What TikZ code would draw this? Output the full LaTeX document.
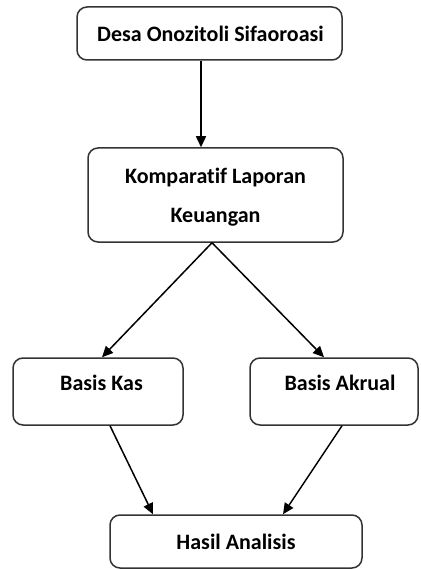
\documentclass[tikz,border=0pt]{standalone}
\usepackage{fontspec}
\setmainfont[Ligatures=NoCommon]{Carlito}
\usetikzlibrary{arrows.meta}
\begin{document}
\begin{tikzpicture}[x=1pt,y=1pt,
  box/.style={draw=black!80, line width=1.5pt, rounded corners=10pt, inner sep=0pt},
  txt/.style={font=\fontsize{22}{39}\selectfont\bfseries, align=center, inner sep=0pt},
  conn/.style={line width=1.5pt, -{Triangle[length=11pt,width=10pt]}}]
\useasboundingbox (0,0) rectangle (420,-569);
\node[box, minimum width=265pt, minimum height=53pt] (b1) at (209.5,-33.5) {};
\node[txt] (t1) at (210.5,-33.5) {Desa Onozitoli Sifaoroasi};
\node[box, minimum width=255pt, minimum height=94pt] (b2) at (215.5,-195) {};
\node[txt] (t2) at (215.5,-197.5) {Komparatif Laporan\\Keuangan};
\node[box, minimum width=170pt, minimum height=67pt] (b3) at (98,-391.5) {};
\node[txt] (t3) at (101.5,-383) {Basis Kas};
\node[box, minimum width=168pt, minimum height=67pt] (b4) at (334,-391.5) {};
\node[txt] (t4) at (340,-383) {Basis Akrual};
\node[box, minimum width=252pt, minimum height=53pt] (b5) at (236,-541.5) {};
\node[txt] (t5) at (236,-541.5) {Hasil Analisis};
\coordinate (a1) at ([xshift=-8.5pt]b1.south);
\draw[conn] (a1) -- (a1 |- b2.north);
\coordinate (apex) at ([xshift=-3.5pt]b2.south);
\draw[conn] (apex) -- ([xshift=4pt]b3.north);
\draw[conn] (apex) -- ([xshift=-10pt]b4.north);
\draw[conn] ([xshift=12pt]b3.south) -- ([xshift=-83pt]b5.north);
\draw[conn] ([xshift=8pt]b4.south) -- ([xshift=47pt]b5.north);
\end{tikzpicture}
\end{document}
